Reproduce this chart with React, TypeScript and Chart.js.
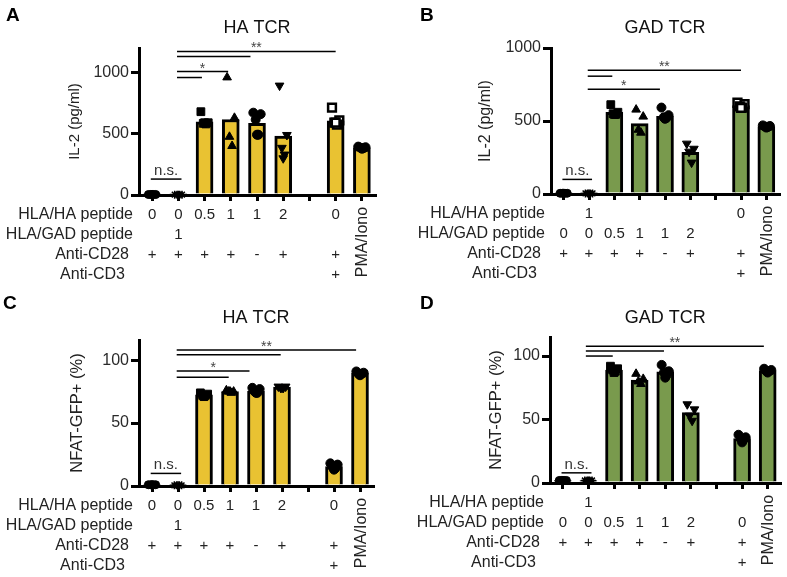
import React, { useEffect, useRef } from 'react';
import { Chart, registerables } from 'chart.js';

Chart.register(...registerables);

const FONT = "'Liberation Sans', Arial, Helvetica, sans-serif";
const YELLOW = '#E9C232';
const GREEN = '#799A4D';

// category slots (index 6 is an empty gap)
const slots = [0, 1, 2, 3, 4, 5, 6, 7, 8];

const rowLabels = ['HLA/HA peptide', 'HLA/GAD peptide', 'Anti-CD28', 'Anti-CD3'];
const cd28Row = ['+', '+', '+', '+', '-', '+', '', '+', ''];
const cd3Row = ['', '', '', '', '', '', '', '+', ''];
const pmaLabel = 'PMA/Iono';

// ---------- Panel A: HA TCR, IL-2 ----------
const aBars = [4, 3, 598, 616, 586, 480, null, 605, 386];
const aPoints = [
  [4, 4, 4, 4, 4],
  [3, 3, 3, 3, 3],
  [680, 590, 585, 580, 590],
  [960, 630, 475, 400],
  [672, 660, 615, 492, 492],
  [893, 490, 385, 330, 300],
  [],
  [713, 610, 590, 575, 590],
  [395, 390, 386, 382, 378],
];
const aHaRow = ['0', '0', '0.5', '1', '1', '2', '', '0', ''];
const aGadRow = ['', '1', '', '', '', '', '', '', ''];

// ---------- Panel B: GAD TCR, IL-2 ----------
const bBars = [5, 4, 560, 482, 532, 285, null, 605, 462];
const bPoints = [
  [5, 5, 5, 5, 5],
  [4, 4, 4, 4, 4],
  [612, 560, 550, 545, 545],
  [578, 530, 440, 420],
  [592, 540, 525, 520, 515],
  [345, 310, 290, 215],
  [],
  [625, 615, 600, 592, 590],
  [470, 466, 462, 458, 455],
];
const bHaRow = ['', '1', '', '', '', '', '', '0', ''];
const bGadRow = ['0', '0', '0.5', '1', '1', '2', '', '', ''];

// ---------- Panel C: HA TCR, NFAT-GFP+ ----------
const cBars = [1, 0.5, 72.5, 75, 75.5, 78.5, null, 15.5, 89.5];
const cPoints = [
  [1, 1, 1, 1, 1],
  [0.5, 0.5, 0.5, 0.5, 0.5],
  [74, 73, 72, 72, 71],
  [76, 75, 75, 74, 75],
  [78, 77, 75, 74, 74],
  [79, 79, 78, 78, 78],
  [],
  [18, 17, 15, 14, 13],
  [91, 90, 89, 89, 88],
];
const cHaRow = ['0', '0', '0.5', '1', '1', '2', '', '0', ''];
const cGadRow = ['', '1', '', '', '', '', '', '', ''];

// ---------- Panel D: GAD TCR, NFAT-GFP+ ----------
const dBars = [2, 2, 89, 81, 87.5, 55.5, null, 35, 88.5];
const dPoints = [
  [2, 2, 2, 2, 2],
  [2, 2, 2, 2, 2],
  [92, 90, 89, 88, 87],
  [86, 82, 80, 78],
  [93, 88, 87, 85, 83],
  [62, 58, 53, 49],
  [],
  [38, 36, 35, 34, 32],
  [90, 89, 88, 88, 87],
];
const dHaRow = ['', '1', '', '', '', '', '', '', ''];
const dGadRow = ['0', '0', '0.5', '1', '1', '2', '', '0', ''];

// significance annotations (category units / data units)
const aSig = [
  { from: 0.95, to: 7, y: 1172, label: '**' },
  { from: 0.95, to: 3.75, y: 1131, label: '' },
  { from: 0.95, to: 2.9, y: 1008, label: '*' },
  { from: 0.95, to: 1.9, y: 959, label: '' },
];
const bSig = [
  { from: 0.95, to: 7, y: 848, label: '**' },
  { from: 0.95, to: 1.92, y: 807, label: '' },
  { from: 0.95, to: 3.8, y: 717, label: '*' },
];
const cSig = [
  { from: 0.95, to: 7.85, y: 108, label: '**' },
  { from: 0.95, to: 4.95, y: 104.3, label: '' },
  { from: 0.95, to: 3.75, y: 91.3, label: '*' },
  { from: 0.95, to: 2.95, y: 86.5, label: '' },
];
const dSig = [
  { from: 0.9, to: 7.85, y: 107.8, label: '**' },
  { from: 0.9, to: 3.95, y: 103.9, label: '' },
  { from: 0.9, to: 1.95, y: 100, label: '' },
];

const SHAPES: Record<string, any> = {
  dot: { style: 'circle', r: 4, rot: 0, fill: '#000', bw: 1 },
  asterisk: { style: 'star', r: 4, rot: 0, fill: '#000', bw: 1.5 },
  square: { style: 'rect', r: 5.5, rot: 0, fill: '#000', bw: 1 },
  triangle: { style: 'triangle', r: 5, rot: 0, fill: '#000', bw: 1 },
  circle: { style: 'circle', r: 4.5, rot: 0, fill: '#000', bw: 1 },
  invTriangle: { style: 'triangle', r: 5, rot: 180, fill: '#000', bw: 1 },
  openSquare: { style: 'rect', r: 5.5, rot: 0, fill: '#fff', bw: 2.5 },
};
const shapesAB = ['dot', 'asterisk', 'square', 'triangle', 'circle', 'invTriangle', '', 'openSquare', 'circle'];
const shapesCD = ['dot', 'asterisk', 'square', 'triangle', 'circle', 'invTriangle', '', 'circle', 'circle'];
const JITTER = [-0.14, 0.14, -0.05, 0.05, 0];

function buildDatasets(bars: (number | null)[], pts: number[][], shapes: string[], color: string) {
  const ds: any[] = [
    {
      type: 'bar',
      order: 2,
      data: slots.filter((_, i) => bars[i] !== null).map((s) => ({ x: s, y: bars[s] })),
      backgroundColor: color,
      borderColor: '#000',
      borderWidth: 3,
      barThickness: 17,
    },
  ];
  pts.forEach((vals, i) => {
    if (!vals.length) return;
    const st = SHAPES[shapes[i]];
    ds.push({
      type: 'scatter',
      order: 1,
      clip: false,
      data: vals.map((v, j) => ({ x: slots[i] + JITTER[j % JITTER.length], y: v })),
      pointStyle: st.style,
      pointRotation: st.rot,
      pointRadius: st.r,
      pointBackgroundColor: st.fill,
      pointBorderColor: '#000',
      pointBorderWidth: st.bw,
    });
  });
  return ds;
}

interface PanelCfg {
  letter: string;
  letterX: number;
  title: string;
  titleY: number;
  yTitle: string;
  yTitleSize: number;
  yTitleOffset: number;
  yMax: number;
  yTicks: number[];
  area: { left: number; right: number; top: number; bottom: number };
  w: number;
  h: number;
  bars: (number | null)[];
  points: number[][];
  shapes: string[];
  color: string;
  sig: { from: number; to: number; y: number; label: string }[];
  nsY: number;
  rows: string[][];
}

const panels: (PanelCfg & { left: number; top: number })[] = [
  {
    left: 0, top: 0, w: 393, h: 288,
    letter: 'A', letterX: 6, title: 'HA TCR', titleY: 33,
    yTitle: 'IL-2 (pg/ml)', yTitleSize: 15, yTitleOffset: 64, yMax: 1200, yTicks: [0, 500, 1000],
    area: { left: 139, right: 375, top: 48, bottom: 195 },
    bars: aBars, points: aPoints, shapes: shapesAB, color: YELLOW, sig: aSig, nsY: 130,
    rows: [aHaRow, aGadRow, cd28Row, cd3Row],
  },
  {
    left: 393, top: 0, w: 394, h: 288,
    letter: 'B', letterX: 27, title: 'GAD TCR', titleY: 33,
    yTitle: 'IL-2 (pg/ml)', yTitleSize: 16, yTitleOffset: 65, yMax: 1000, yTicks: [0, 500, 1000],
    area: { left: 158, right: 393, top: 48, bottom: 194 },
    bars: bBars, points: bPoints, shapes: shapesAB, color: GREEN, sig: bSig, nsY: 100,
    rows: [bHaRow, bGadRow, cd28Row, cd3Row],
  },
  {
    left: 0, top: 288, w: 393, h: 289,
    letter: 'C', letterX: 3, title: 'HA TCR', titleY: 35,
    yTitle: 'NFAT-GFP+ (%)', yTitleSize: 16.5, yTitleOffset: 62, yMax: 116, yTicks: [0, 50, 100],
    area: { left: 139, right: 373, top: 52, bottom: 198 },
    bars: cBars, points: cPoints, shapes: shapesCD, color: YELLOW, sig: cSig, nsY: 10,
    rows: [cHaRow, cGadRow, cd28Row, cd3Row],
  },
  {
    left: 393, top: 288, w: 394, h: 289,
    letter: 'D', letterX: 27, title: 'GAD TCR', titleY: 35,
    yTitle: 'NFAT-GFP+ (%)', yTitleSize: 16.5, yTitleOffset: 54, yMax: 115, yTicks: [0, 50, 100],
    area: { left: 157, right: 393, top: 49, bottom: 195 },
    bars: dBars, points: dPoints, shapes: shapesCD, color: GREEN, sig: dSig, nsY: 8,
    rows: [dHaRow, dGadRow, cd28Row, cd3Row],
  },
];

const ROW_SHIFT = [6, 6, 10, 14];

function makeDecor(cfg: PanelCfg) {
  return {
    id: 'decor' + cfg.letter,
    afterDraw(chart: any) {
      const { ctx, chartArea } = chart;
      const x = chart.scales.x;
      const y = chart.scales.y;
      ctx.save();
      // panel letter
      ctx.fillStyle = '#000';
      ctx.font = `bold 19px ${FONT}`;
      ctx.textAlign = 'left';
      ctx.textBaseline = 'alphabetic';
      ctx.fillText(cfg.letter, cfg.letterX, 21);
      // title
      ctx.fillStyle = '#111';
      ctx.font = `18px ${FONT}`;
      ctx.textAlign = 'center';
      ctx.fillText(cfg.title, (chartArea.left + chartArea.right) / 2, cfg.titleY);
      // y title
      ctx.save();
      ctx.translate(chartArea.left - cfg.yTitleOffset, (chartArea.top + chartArea.bottom) / 2);
      ctx.rotate(-Math.PI / 2);
      ctx.font = `${cfg.yTitleSize}px ${FONT}`;
      ctx.fillStyle = '#222';
      ctx.textBaseline = 'middle';
      ctx.fillText(cfg.yTitle, 0, 0);
      ctx.restore();
      // significance lines
      ctx.strokeStyle = '#000';
      ctx.lineWidth = 1.5;
      for (const s of cfg.sig) {
        const py = y.getPixelForValue(s.y);
        const x1 = x.getPixelForValue(s.from);
        const x2 = x.getPixelForValue(s.to);
        ctx.beginPath();
        ctx.moveTo(x1, py);
        ctx.lineTo(x2, py);
        ctx.stroke();
        if (s.label) {
          ctx.fillStyle = '#444';
          ctx.font = `14px ${FONT}`;
          ctx.textAlign = 'center';
          ctx.textBaseline = 'alphabetic';
          ctx.fillText(s.label, (x1 + x2) / 2, py + 1);
        }
      }
      // n.s.
      const nsy = y.getPixelForValue(cfg.nsY);
      const n1 = x.getPixelForValue(-0.05);
      const n2 = x.getPixelForValue(1.12);
      ctx.beginPath();
      ctx.moveTo(n1, nsy);
      ctx.lineTo(n2, nsy);
      ctx.stroke();
      ctx.fillStyle = '#333';
      ctx.font = `15px ${FONT}`;
      ctx.textAlign = 'center';
      ctx.textBaseline = 'alphabetic';
      ctx.fillText('n.s.', (n1 + n2) / 2, nsy - 4);
      // condition rows
      ctx.fillStyle = '#222';
      cfg.rows.forEach((row, r) => {
        const by = chartArea.bottom + 24 + 20 * r;
        ctx.font = `16px ${FONT}`;
        ctx.textAlign = 'right';
        ctx.fillText(rowLabels[r], chartArea.left - ROW_SHIFT[r], by);
        ctx.font = `15px ${FONT}`;
        ctx.textAlign = 'center';
        row.forEach((t, i) => {
          if (t) ctx.fillText(t, x.getPixelForValue(slots[i]), by);
        });
      });
      // PMA/Iono vertical label
      ctx.save();
      ctx.translate(x.getPixelForValue(8) + 5.5, chartArea.bottom + 47);
      ctx.rotate(-Math.PI / 2);
      ctx.font = `16px ${FONT}`;
      ctx.textAlign = 'center';
      ctx.textBaseline = 'alphabetic';
      ctx.fillText(pmaLabel, 0, 0);
      ctx.restore();
      ctx.restore();
    },
  };
}

function Panel({ cfg }: { cfg: PanelCfg & { left: number; top: number } }) {
  const ref = useRef<HTMLCanvasElement>(null);
  useEffect(() => {
    if (!ref.current) return;
    const a = cfg.area;
    const chart = new Chart(ref.current, {
      type: 'bar',
      data: { datasets: buildDatasets(cfg.bars, cfg.points, cfg.shapes, cfg.color) },
      options: {
        animation: false,
        responsive: false,
        devicePixelRatio: 1,
        layout: { padding: { left: 0, top: a.top, right: cfg.w - a.right, bottom: 0 } },
        plugins: { legend: { display: false }, tooltip: { enabled: false } },
        scales: {
          x: {
            type: 'linear',
            min: -0.5,
            max: 8.5,
            offset: false,
            afterBuildTicks: (s: any) => {
              s.ticks = slots.map((v) => ({ value: v }));
            },
            afterFit: (s: any) => {
              s.height = cfg.h - a.bottom;
            },
            border: { display: true, width: 3, color: '#000' },
            grid: { drawOnChartArea: false, drawTicks: true, tickLength: 6, lineWidth: 3, color: '#000', offset: false },
            ticks: { display: false },
          },
          y: {
            type: 'linear',
            min: 0,
            max: cfg.yMax,
            afterBuildTicks: (s: any) => {
              s.ticks = cfg.yTicks.map((v) => ({ value: v }));
            },
            afterFit: (s: any) => {
              s.width = a.left;
            },
            border: { display: true, width: 3, color: '#000' },
            grid: { drawOnChartArea: false, drawTicks: true, tickLength: 8, lineWidth: 3, color: '#000' },
            ticks: {
              font: { size: 16, family: FONT },
              color: '#2a2a2a',
              padding: 2,
              callback: (v: any) => String(v),
            },
          },
        },
      } as any,
      plugins: [makeDecor(cfg)],
    });
    return () => chart.destroy();
  }, [cfg]);
  return (
    <canvas
      ref={ref}
      width={cfg.w}
      height={cfg.h}
      style={{ position: 'absolute', left: cfg.left, top: cfg.top, width: cfg.w, height: cfg.h }}
    />
  );
}

export default function App() {
  return (
    <div style={{ position: 'absolute', left: 0, top: 0, width: 787, height: 577, background: '#fff', fontFamily: FONT }}>
      {panels.map((p) => (
        <Panel key={p.letter} cfg={p} />
      ))}
    </div>
  );
}
